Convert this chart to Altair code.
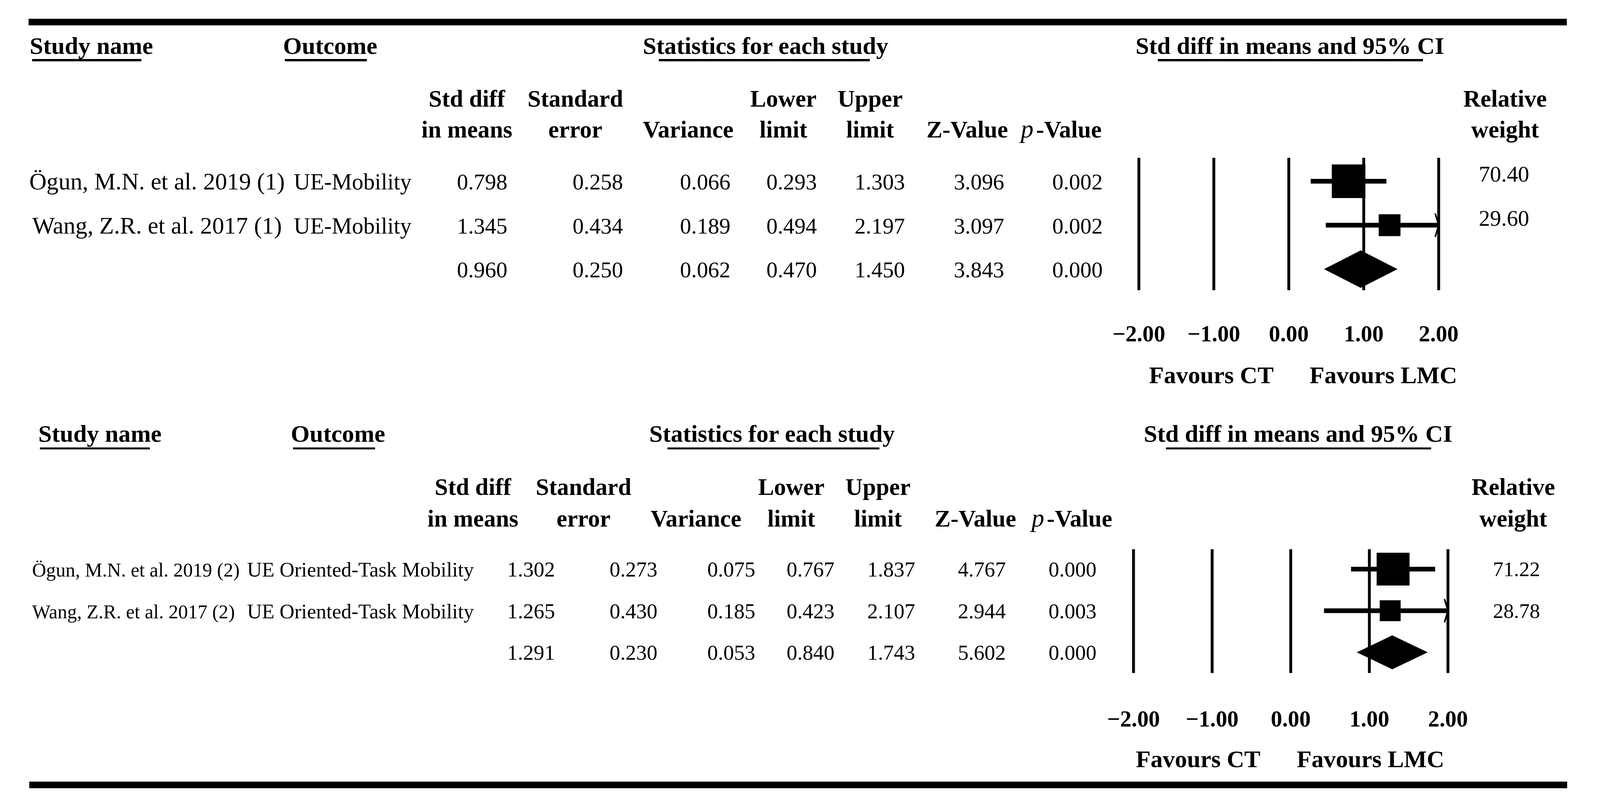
import altair as alt
import pandas as pd

# ---------------- data ----------------
study1 = ["Ögun, M.N. et al. 2019 (1)", "Wang, Z.R. et al. 2017 (1)", ""]
outcome1 = ["UE-Mobility", "UE-Mobility", ""]
smd1 = [0.798, 1.345, 0.960]
se1 = [0.258, 0.434, 0.250]
var1 = [0.066, 0.189, 0.062]
lower1 = [0.293, 0.494, 0.470]
upper1 = [1.303, 2.197, 1.450]
z1 = [3.096, 3.097, 3.843]
p1 = [0.002, 0.002, 0.000]
weight1 = [70.40, 29.60]

study2 = ["Ögun, M.N. et al. 2019 (2)", "Wang, Z.R. et al. 2017 (2)", ""]
outcome2 = ["UE Oriented-Task Mobility", "UE Oriented-Task Mobility", ""]
smd2 = [1.302, 1.265, 1.291]
se2 = [0.273, 0.430, 0.230]
var2 = [0.075, 0.185, 0.053]
lower2 = [0.767, 0.423, 0.840]
upper2 = [1.837, 2.107, 1.743]
z2 = [4.767, 2.944, 5.602]
p2 = [0.000, 0.003, 0.000]
weight2 = [71.22, 28.78]

ticks = [-2, -1, 0, 1, 2]
tick_labels = ["−2.00", "−1.00", "0.00", "1.00", "2.00"]

titles = ["Study name", "Outcome", "Statistics for each study", "Std diff in means and 95% CI"]
col_heads = [("Std diff", "in means"), ("Standard", "error"), ("", "Variance"),
             ("Lower", "limit"), ("Upper", "limit"), ("", "Z-Value"), ("Relative", "weight")]
favours = ["Favours CT", "Favours LMC"]

# ---------------- layout ----------------
# layout positions are given in reference-image pixels (4483 x 2066);
# the page is rendered 4096 px wide, so horizontal positions are rescaled.
PAGE_W = 4096
REF_W = 4483
KX = PAGE_W / REF_W
KF = 0.956
W = PAGE_W - 16
H = 2050
PAGE = 8
FONT = "Liberation Serif"
ONE = pd.DataFrame({"k": [0]})

L1 = dict(rules=[(80, 4390, 56.5, 17)],
          ul=[(90, 396), (798, 1028), (1846, 2437), (3244, 3987)], ul_y=154, ul_th=6,
          title_x=[256, 925, 2145, 3614], title_y=138, title_size=65,
          h1=273, h2=352, hsize=64,
          head_x=[1308, 1612, 1928, 2195, 2438, 2710, 4217],
          p_x=2878, pv_x=2903,
          row0=464, row2=689, dy=21,
          name_x=440, name_align="center", name_size=64,
          out_x=988, out_size=61,
          val_x=[1351, 1675, 1976, 2218, 2465, 2743, 3019], val_size=60,
          w_x=4214, w_dy=1, w_size=60,
          xm2=3191, xp2=4031, grid=(404, 743), tick_y=874, tick_size=61,
          fav_x=[3394, 3876], fav_y=981, fav_size=65,
          sq_k=11500, dia_hh=48, ci_w=12)

L2 = dict(rules=[(82, 4391, 2009.5, 17)],
          ul=[(112, 420), (821, 1051), (1870, 2464), (3267, 4010)], ul_y=1148, ul_th=5,
          title_x=[280, 947, 2163, 3637], title_y=1131, title_size=65,
          h1=1267, h2=1348, hsize=64,
          head_x=[1325, 1635, 1950, 2217, 2460, 2733, 4240],
          p_x=2908, pv_x=2933,
          row0=1457, row2=1670, dy=19,
          name_x=90, name_align="left", name_size=52,
          out_x=1010, out_size=55,
          val_x=[1488, 1775, 2049, 2271, 2497, 2751, 3005], val_size=57,
          w_x=4249, w_dy=18, w_size=56,
          xm2=3176, xp2=4057, grid=(1406, 1723), tick_y=1860, tick_size=61,
          fav_x=[3357, 3840], fav_y=1964, fav_size=65,
          sq_k=10900, dia_hh=43.5, ci_w=12)


def X(v):
    return v * KX - PAGE


def Y(v):
    return v - PAGE


def F(s):
    return round(s * KF, 1)


def panel(study, outcome, smd, se, var, lower, upper, z, p, weight, L):
    ys = alt.Scale(domain=[0, 2], range=[Y(L["row0"]), Y(L["row2"])], nice=False, zero=False)
    xs = alt.Scale(domain=[-2, 2], range=[X(L["xm2"]), X(L["xp2"])], nice=False, zero=False, clamp=True)
    row_px = (L["row2"] - L["row0"]) / 2.0

    def label(text, x, y, size, weight="normal", align="center", style="normal"):
        return alt.Chart(ONE).mark_text(
            text=text, font=FONT, fontSize=F(size), fontWeight=weight, fontStyle=style,
            align=align, baseline="alphabetic", color="black"
        ).encode(x=alt.value(X(x)), y=alt.value(Y(y)))

    def hrule(x0, x1, y, th):
        return alt.Chart(ONE).mark_rule(color="black", strokeWidth=th, strokeCap="butt").encode(
            x=alt.value(X(x0)), x2=alt.value(X(x1)), y=alt.value(Y(y)))

    layers = []
    for (x0, x1, y, th) in L["rules"]:
        layers.append(hrule(x0, x1, y, th))
    for (x0, x1) in L["ul"]:
        layers.append(hrule(x0, x1, L["ul_y"], L["ul_th"]))
    for t, x in zip(titles, L["title_x"]):
        layers.append(label(t, x, L["title_y"], L["title_size"], weight="bold"))
    for (a, b), x in zip(col_heads, L["head_x"]):
        if a:
            layers.append(label(a, x, L["h1"], L["hsize"], weight="bold"))
        layers.append(label(b, x, L["h2"], L["hsize"], weight="bold"))
    layers.append(label("p", L["p_x"], L["h2"], L["hsize"] + 4, style="italic"))
    layers.append(label("-Value", L["pv_x"], L["h2"], L["hsize"], weight="bold", align="left"))

    tbl = pd.DataFrame({"row": [0, 1, 2], "study": study, "outcome": outcome, "smd": smd,
                        "se": se, "var": var, "lo": lower, "hi": upper, "z": z, "p": p})

    def coltext(df, field, x, size, fmt=None, align="center", dy=0):
        txt = alt.Text(f"{field}:Q", format=fmt) if fmt else alt.Text(f"{field}:N")
        return alt.Chart(df).mark_text(
            font=FONT, fontSize=F(size), align=align, baseline="alphabetic", dy=dy, color="black"
        ).encode(x=alt.value(X(x)), y=alt.Y("row:Q", scale=ys, axis=None), text=txt)

    layers.append(coltext(tbl, "study", L["name_x"], L["name_size"], align=L["name_align"], dy=L["dy"]))
    layers.append(coltext(tbl, "outcome", L["out_x"], L["out_size"], dy=L["dy"]))
    for f, x in zip(["smd", "se", "var", "lo", "hi", "z", "p"], L["val_x"]):
        layers.append(coltext(tbl, f, x, L["val_size"], fmt=".3f", dy=L["dy"]))

    studies = tbl.iloc[:2].copy()
    studies["w"] = weight
    layers.append(coltext(studies, "w", L["w_x"], L["w_size"], fmt=".2f", dy=L["w_dy"]))

    # forest plot
    tk = pd.DataFrame({"t": ticks, "lab": tick_labels})
    layers.append(alt.Chart(tk).mark_rule(color="black", strokeWidth=8 * KX).encode(
        x=alt.X("t:Q", scale=xs, axis=None),
        y=alt.value(Y(L["grid"][0])), y2=alt.value(Y(L["grid"][1]))))
    layers.append(alt.Chart(tk).mark_text(
        font=FONT, fontSize=F(L["tick_size"]), fontWeight="bold", baseline="alphabetic", color="black"
    ).encode(x=alt.X("t:Q", scale=xs, axis=None), y=alt.value(Y(L["tick_y"])), text="lab:N"))
    for t, x in zip(favours, L["fav_x"]):
        layers.append(label(t, x, L["fav_y"], L["fav_size"], weight="bold"))

    layers.append(alt.Chart(studies).mark_rule(color="black", strokeWidth=L["ci_w"], strokeCap="butt").encode(
        x=alt.X("lo:Q", scale=xs, axis=None), x2="hi:Q",
        y=alt.Y("row:Q", scale=ys, axis=None)))
    layers.append(alt.Chart(studies).mark_square(color="black", opacity=1).encode(
        x=alt.X("smd:Q", scale=xs, axis=None),
        y=alt.Y("row:Q", scale=ys, axis=None),
        size=alt.Size("w:Q", scale=alt.Scale(domain=[0, 100], range=[0, L["sq_k"] * KX]), legend=None)))
    layers.append(alt.Chart(studies).transform_filter("datum.hi > 2").mark_point(
        shape="M -0.3 -1 L 0 0 L -0.3 1", filled=False, color="black", strokeWidth=4,
        size=3600, opacity=1
    ).encode(x=alt.X("hi:Q", scale=xs, axis=None), y=alt.Y("row:Q", scale=ys, axis=None)))

    pooled = tbl.iloc[2]
    hh = L["dia_hh"] / row_px
    dia = pd.DataFrame({
        "x": [pooled["lo"], pooled["smd"], pooled["hi"]],
        "ya": [2.0, 2.0 - hh, 2.0],
        "yb": [2.0, 2.0 + hh, 2.0],
    })
    layers.append(alt.Chart(dia).mark_area(color="black", orient="vertical", opacity=1).encode(
        x=alt.X("x:Q", scale=xs, axis=None),
        y=alt.Y("ya:Q", scale=ys, axis=None), y2="yb:Q"))

    return layers


layers = (panel(study1, outcome1, smd1, se1, var1, lower1, upper1, z1, p1, weight1, L1)
          + panel(study2, outcome2, smd2, se2, var2, lower2, upper2, z2, p2, weight2, L2))

chart = alt.layer(*layers).resolve_scale(
    x="independent", y="independent", size="independent"
).properties(
    width=W, height=H, padding=0, background="white",
    autosize=alt.AutoSizeParams(type="none"),
).configure_view(stroke=None)

chart.save("out.html", embed_options={"renderer": "svg", "actions": False})
